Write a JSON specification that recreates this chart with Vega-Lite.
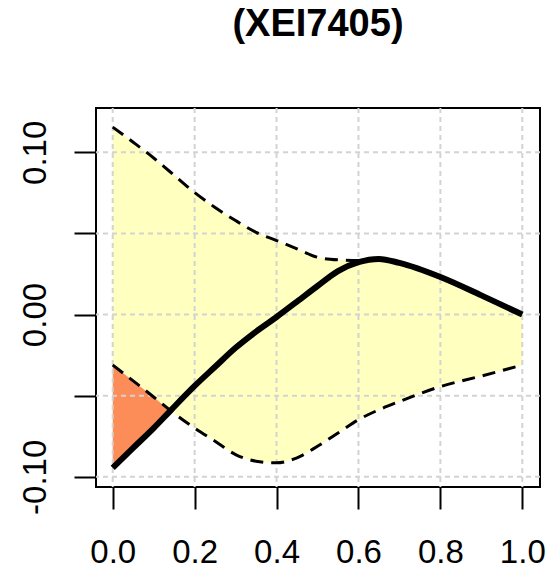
{
  "$schema": "https://vega.github.io/schema/vega-lite/v6.json",
  "width": 444,
  "height": 379,
  "autosize": {"type": "none"},
  "padding": {"left": 96, "top": 108, "right": 10, "bottom": 82},
  "background": "white",
  "title": {
    "text": "(XEI7405)",
    "font": "Liberation Sans",
    "fontSize": 38,
    "fontWeight": "bold",
    "color": "black",
    "anchor": "middle",
    "baseline": "alphabetic",
    "offset": 33
  },
  "config": {
    "view": {"stroke": "black", "strokeWidth": 2},
    "axis": {"grid": false, "domain": false}
  },
  "datasets": {
    "main": [
      {"x": 0.0, "mean": -0.0945, "upper": 0.1155, "lower": -0.0311},
      {"x": 0.05, "mean": -0.0822, "upper": 0.1062, "lower": -0.0409},
      {"x": 0.1, "mean": -0.0700, "upper": 0.0965, "lower": -0.0508},
      {"x": 0.14, "mean": -0.0595, "upper": 0.0880, "lower": -0.0590},
      {"x": 0.2, "mean": -0.0440, "upper": 0.0752, "lower": -0.0700},
      {"x": 0.25, "mean": -0.0322, "upper": 0.0660, "lower": -0.0781},
      {"x": 0.3, "mean": -0.0205, "upper": 0.0579, "lower": -0.0863},
      {"x": 0.35, "mean": -0.0105, "upper": 0.0507, "lower": -0.0904},
      {"x": 0.4, "mean": -0.0015, "upper": 0.0456, "lower": -0.0914},
      {"x": 0.45, "mean": 0.0080, "upper": 0.0405, "lower": -0.0883},
      {"x": 0.5, "mean": 0.0176, "upper": 0.0353, "lower": -0.0812},
      {"x": 0.55, "mean": 0.0268, "upper": 0.0337, "lower": -0.0730},
      {"x": 0.6, "mean": 0.0323, "upper": 0.0333, "lower": -0.0648},
      {"x": 0.65, "mean": 0.0343, "upper": 0.0343, "lower": -0.0587},
      {"x": 0.7, "mean": 0.0318, "upper": 0.0318, "lower": -0.0536},
      {"x": 0.8, "mean": 0.0231, "upper": 0.0231, "lower": -0.0444},
      {"x": 0.9, "mean": 0.0118, "upper": 0.0118, "lower": -0.0379},
      {"x": 1.0, "mean": 0.0, "upper": 0.0, "lower": -0.0311}
    ],
    "orange": [
      {"x": 0.0, "mean": -0.0945, "lower": -0.0311},
      {"x": 0.05, "mean": -0.0822, "lower": -0.0409},
      {"x": 0.1, "mean": -0.0700, "lower": -0.0508},
      {"x": 0.138, "mean": -0.0590, "lower": -0.0590}
    ],
    "gridx": [{"v": 0.0}, {"v": 0.2}, {"v": 0.4}, {"v": 0.6}, {"v": 0.8}, {"v": 1.0}],
    "gridy": [{"v": -0.1}, {"v": -0.05}, {"v": 0.0}, {"v": 0.05}, {"v": 0.1}]
  },
  "layer": [
    {
      "data": {"name": "main"},
      "mark": {"type": "area", "color": "#FFFFBF", "interpolate": "monotone", "opacity": 1},
      "encoding": {
        "x": {
          "field": "x", "type": "quantitative",
          "scale": {"domain": [-0.0408, 1.0432], "nice": false, "zero": false},
          "axis": {
            "values": [0, 0.2, 0.4, 0.6, 0.8, 1.0],
            "format": ".1f",
            "title": null,
            "tickSize": 22,
            "tickWidth": 2,
            "tickColor": "black",
            "labelFont": "Liberation Sans",
            "labelFontSize": 33,
            "labelColor": "black",
            "labelPadding": 27,
            "labelFlush": false,
            "labelOverlap": false
          }
        },
        "y": {
          "field": "lower", "type": "quantitative",
          "scale": {"domain": [-0.1063, 0.1273], "nice": false, "zero": false},
          "axis": {
            "values": [-0.1, -0.05, 0, 0.05, 0.1],
            "labelExpr": "datum.value > 0.075 ? '0.10' : (datum.value < -0.075 ? '-0.10' : (abs(datum.value) < 0.01 ? '0.00' : ''))",
            "title": null,
            "tickSize": 22,
            "tickWidth": 2,
            "tickColor": "black",
            "labelFont": "Liberation Sans",
            "labelFontSize": 33,
            "labelColor": "black",
            "labelAngle": -90,
            "labelAlign": "center",
            "labelBaseline": "alphabetic",
            "labelPadding": 29,
            "labelFlush": false,
            "labelOverlap": false
          }
        },
        "y2": {"field": "upper"}
      }
    },
    {
      "data": {"name": "orange"},
      "mark": {"type": "area", "color": "#FC8D59", "interpolate": "linear", "opacity": 1},
      "encoding": {
        "x": {"field": "x", "type": "quantitative"},
        "y": {"field": "mean", "type": "quantitative"},
        "y2": {"field": "lower"}
      }
    },
    {
      "data": {"name": "gridx"},
      "mark": {"type": "rule", "color": "#D3D3D3", "strokeWidth": 2, "strokeDash": [5, 4]},
      "encoding": {"x": {"field": "v", "type": "quantitative"}}
    },
    {
      "data": {"name": "gridy"},
      "mark": {"type": "rule", "color": "#D3D3D3", "strokeWidth": 2, "strokeDash": [5, 4]},
      "encoding": {"y": {"field": "v", "type": "quantitative"}}
    },
    {
      "data": {"name": "main"},
      "mark": {"type": "line", "color": "black", "strokeWidth": 3, "strokeDash": [13, 8], "interpolate": "monotone"},
      "encoding": {
        "x": {"field": "x", "type": "quantitative"},
        "y": {"field": "upper", "type": "quantitative"}
      }
    },
    {
      "data": {"name": "main"},
      "mark": {"type": "line", "color": "black", "strokeWidth": 3, "strokeDash": [13, 8], "interpolate": "monotone"},
      "encoding": {
        "x": {"field": "x", "type": "quantitative"},
        "y": {"field": "lower", "type": "quantitative"}
      }
    },
    {
      "data": {"name": "main"},
      "mark": {"type": "line", "color": "black", "strokeWidth": 6, "interpolate": "monotone"},
      "encoding": {
        "x": {"field": "x", "type": "quantitative"},
        "y": {"field": "mean", "type": "quantitative"}
      }
    }
  ]
}
